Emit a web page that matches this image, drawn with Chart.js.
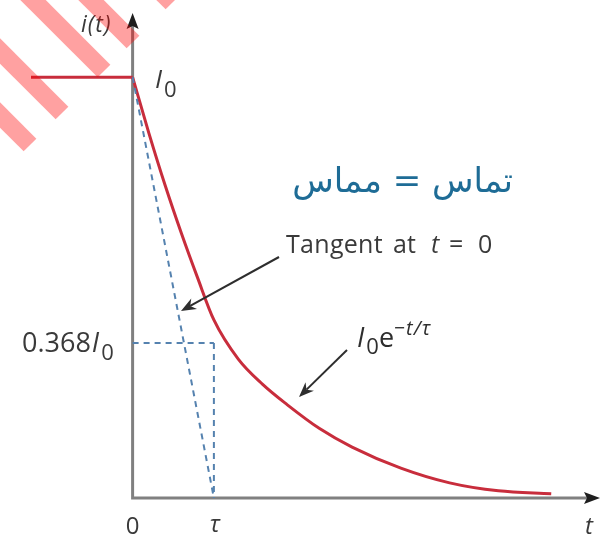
<!DOCTYPE html>
<html lang="en">
<head>
<meta charset="UTF-8" />
<title>i(t) decay</title>
<script src="https://cdn.jsdelivr.net/npm/chart.js"></script>
<style>
  html, body { margin: 0; padding: 0; background: #fff; }
  #wrap { width: 605px; height: 536px; }
</style>
</head>
<body>
<div id="wrap"><canvas id="decay" width="605" height="536"></canvas></div>
<script>
// time in units of tau, current in units of I0
const stepT = [-1.25, 0];
const stepI = [1, 1];
const decayT = [0, 0.2, 0.4, 0.6, 0.8, 1.0, 1.3, 1.6, 1.9, 2.3, 2.7, 3.3, 3.9, 4.5, 5.15];
const decayI = [1, 0.867, 0.743, 0.629, 0.523, 0.423, 0.330, 0.270, 0.222, 0.165, 0.121, 0.071, 0.036, 0.017, 0.010];
const tangentT = [0, 1];
const tangentI = [1, 0];
const markLevel = 0.368;
const tau = 1;

const pts = (xs, ys) => xs.map((x, i) => ({ x, y: ys[i] }));

const RED = 'rgb(200, 45, 60)';
const DASH = 'rgb(85, 130, 175)';
const INK = '#3a3a3a';
const FONT = '"Open Sans", "Liberation Sans", sans-serif';

// draw text pieces left to right, each with its own font, shift, spacing and optional fixed x
function runs(ctx, x, y, pieces) {
  let cx = x;
  for (const p of pieces) {
    if (p.x !== undefined) cx = p.x;
    ctx.font = p.font;
    ctx.letterSpacing = (p.ls || 0) + 'px';
    ctx.fillText(p.t, cx, y + (p.dy || 0));
    cx += ctx.measureText(p.t).width + (p.gap || 0);
  }
  ctx.letterSpacing = '0px';
}

function arrow(ctx, x1, y1, x2, y2, head, color, width) {
  const a = Math.atan2(y2 - y1, x2 - x1);
  const c = Math.cos(a), s = Math.sin(a);
  ctx.strokeStyle = color;
  ctx.fillStyle = color;
  ctx.lineWidth = width;
  ctx.beginPath();
  ctx.moveTo(x1, y1);
  ctx.lineTo(x2 - c * head * 0.7, y2 - s * head * 0.7);
  ctx.stroke();
  ctx.beginPath();
  ctx.moveTo(x2, y2);
  ctx.lineTo(x2 - head * c + head * 0.4 * s, y2 - head * s - head * 0.4 * c);
  ctx.lineTo(x2 - head * 0.7 * c, y2 - head * 0.7 * s);
  ctx.lineTo(x2 - head * c - head * 0.4 * s, y2 - head * s + head * 0.4 * c);
  ctx.closePath();
  ctx.fill();
}

const axesPlugin = {
  id: 'axesPlugin',
  beforeDatasetsDraw(chart) {
    const { ctx, chartArea, scales: { x, y } } = chart;
    const x0 = x.getPixelForValue(0);
    const y0 = y.getPixelForValue(0);
    ctx.save();
    ctx.strokeStyle = '#808080';
    ctx.lineWidth = 3;
    ctx.beginPath();
    ctx.moveTo(x0, y0 + 1.5);
    ctx.lineTo(x0, chartArea.top + 12);
    ctx.moveTo(x0 - 1.5, y0);
    ctx.lineTo(chartArea.right - 12, y0);
    ctx.stroke();
    ctx.fillStyle = '#1e1e1e';
    const ty = chartArea.top - 1;
    ctx.beginPath();
    ctx.moveTo(x0, ty);
    ctx.lineTo(x0 + 6, ty + 16);
    ctx.lineTo(x0, ty + 13);
    ctx.lineTo(x0 - 6, ty + 16);
    ctx.closePath();
    ctx.fill();
    const tx = chartArea.right;
    ctx.beginPath();
    ctx.moveTo(tx, y0);
    ctx.lineTo(tx - 16, y0 - 6);
    ctx.lineTo(tx - 13, y0);
    ctx.lineTo(tx - 16, y0 + 6);
    ctx.closePath();
    ctx.fill();
    ctx.restore();
  },
  afterDatasetsDraw(chart) {
    const { ctx, scales: { x, y } } = chart;
    const x0 = x.getPixelForValue(0);
    const yI0 = y.getPixelForValue(1);
    const yMark = y.getPixelForValue(markLevel);
    const xTau = x.getPixelForValue(tau);
    ctx.save();
    ctx.fillStyle = INK;
    ctx.textBaseline = 'alphabetic';
    ctx.textAlign = 'left';

    // axis names and tick marks
    runs(ctx, 81, 32, [{ t: 'i(t)', font: `italic 23px ${FONT}`, ls: 1 }]);
    ctx.textAlign = 'center';
    ctx.font = `24px ${FONT}`;
    ctx.fillText('0', x0, 534);
    ctx.font = `italic 24px ${FONT}`;
    ctx.fillText('\u03c4', xTau + 1, 532);
    ctx.fillText('t', 589, 534);
    ctx.textAlign = 'left';

    // I0 at the step level
    runs(ctx, 155, yI0 + 11, [
      { t: 'I', font: `italic 26px ${FONT}`, gap: 2 },
      { t: '0', font: `22px ${FONT}`, dy: 9 }
    ]);

    // 0.368 I0 beside the dashed level
    runs(ctx, 22, yMark + 9, [
      { t: '0.368', font: `27px ${FONT}`, gap: 1 },
      { t: 'I', font: `italic 27px ${FONT}`, gap: 2 },
      { t: '0', font: `22px ${FONT}`, dy: 8 }
    ]);

    // tangent label and its arrow
    runs(ctx, 286, 253, [
      { t: 'Tangent', font: `25px ${FONT}`, ls: 0.3 },
      { t: 'at', font: `25px ${FONT}`, x: 393 },
      { t: 't', font: `italic 25px ${FONT}`, x: 431 },
      { t: '=', font: `25px ${FONT}`, x: 449 },
      { t: '0', font: `25px ${FONT}`, x: 478 }
    ]);
    arrow(ctx, 279, 257, 181, 311, 15, '#2e2e2e', 2);

    // curve label and its arrow
    runs(ctx, 357, 347, [
      { t: 'I', font: `italic 27px ${FONT}`, gap: 2 },
      { t: '0', font: `22px ${FONT}`, dy: 7 },
      { t: 'e', font: `27px ${FONT}`, gap: 0 },
      { t: '\u2212t/\u03c4', font: `italic 20px ${FONT}`, dy: -12, ls: 1 }
    ]);
    arrow(ctx, 347, 350, 299, 397, 15, '#2e2e2e', 2);

    // Arabic note
    ctx.fillStyle = 'rgb(30, 108, 150)';
    ctx.font = '34px "DejaVu Sans", sans-serif';
    ctx.direction = 'rtl';
    ctx.textAlign = 'right';
    ctx.fillText('تماس = مماس', 513, 192);
    ctx.direction = 'ltr';
    ctx.textAlign = 'left';

    // red hatch strokes across the top-left corner, ends on the line x + y = 175
    ctx.fillStyle = 'rgba(255, 0, 0, 0.37)';
    const ends = [172, 133, 104, 62, 30];
    const w = 9 / Math.SQRT2;
    const len = 320 / Math.SQRT2;
    for (const ex of ends) {
      const ey = 175 - ex;
      ctx.beginPath();
      ctx.moveTo(ex + w, ey - w);
      ctx.lineTo(ex - w, ey + w);
      ctx.lineTo(ex - w - len, ey + w - len);
      ctx.lineTo(ex + w - len, ey - w - len);
      ctx.closePath();
      ctx.fill();
    }
    ctx.restore();
  }
};

new Chart(document.getElementById('decay'), {
  type: 'scatter',
  data: {
    datasets: [
      {
        label: 'tangent',
        data: pts(tangentT, tangentI),
        showLine: true,
        borderColor: DASH,
        borderWidth: 2,
        borderDash: [6, 5],
        pointRadius: 0
      },
      {
        label: 'level',
        data: pts([0, tau], [markLevel, markLevel]),
        showLine: true,
        borderColor: DASH,
        borderWidth: 2,
        borderDash: [6, 5],
        pointRadius: 0
      },
      {
        label: 'tau',
        data: pts([tau, tau], [markLevel, 0]),
        showLine: true,
        borderColor: DASH,
        borderWidth: 2,
        borderDash: [6, 5],
        pointRadius: 0
      },
      {
        label: 'step',
        data: pts(stepT, stepI),
        showLine: true,
        borderColor: RED,
        borderWidth: 3,
        pointRadius: 0
      },
      {
        label: 'i(t)',
        data: pts(decayT, decayI),
        showLine: true,
        borderColor: RED,
        borderWidth: 3,
        cubicInterpolationMode: 'monotone',
        pointRadius: 0
      }
    ]
  },
  options: {
    responsive: false,
    animation: false,
    layout: { padding: { left: 31, right: 5, top: 14, bottom: 38 } },
    plugins: { legend: { display: false }, tooltip: { enabled: false } },
    scales: {
      x: { type: 'linear', min: -1.25, max: 5.75, display: false },
      y: { type: 'linear', min: 0, max: 1.15, display: false }
    }
  },
  plugins: [axesPlugin]
});
</script>
</body>
</html>
